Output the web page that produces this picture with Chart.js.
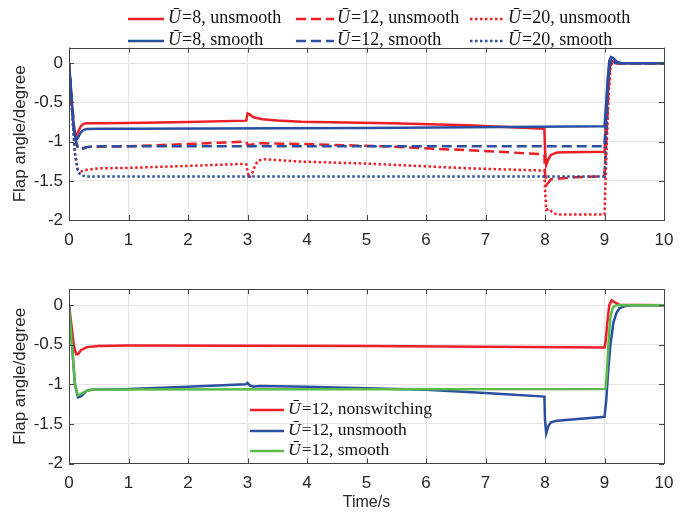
<!DOCTYPE html>
<html><head><meta charset="utf-8">
<script src="https://cdn.jsdelivr.net/npm/chart.js@4"></script>
<style>
html,body{margin:0;padding:0;background:#fff;}
#wrap{position:relative;width:691px;height:514px;background:#fff;}
#c1{position:absolute;left:0;top:0;}
#c2{position:absolute;left:0;top:260px;}
</style></head><body>
<div id="wrap"><canvas id="c1" width="691" height="260" style="width:691px;height:260px"></canvas><canvas id="c2" width="691" height="254" style="width:691px;height:254px"></canvas></div>
<script>
// ---------- tick labels ----------
const xTicks = [0,1,2,3,4,5,6,7,8,9,10];
const yTicks = [-2,-1.5,-1,-0.5,0];

// ---------- top subplot ----------
const labelU8un = 'Ū=8, unsmooth';
const tU8un = [0,0.03,0.06,0.09,0.12,0.15,0.2,0.25,0.3,0.5,1,2,2.98,3.0,3.03,3.1,3.25,3.5,3.9,5.4,6.7,7.99,8.0,8.02,8.06,8.1,8.2,8.4,9.0,9.02,9.05,9.08,9.11,9.15,9.2,10];
const vU8un = [0,-0.3,-0.65,-0.88,-0.93,-0.88,-0.8,-0.77,-0.765,-0.765,-0.762,-0.75,-0.732,-0.64,-0.65,-0.69,-0.715,-0.73,-0.745,-0.765,-0.79,-0.835,-1.1,-1.3,-1.22,-1.17,-1.14,-1.135,-1.13,-0.8,-0.4,-0.05,0.03,0.02,0,0];

const labelU8sm = 'Ū=8, smooth';
const tU8sm = [0,0.03,0.06,0.09,0.12,0.15,0.2,0.25,0.3,0.5,1,5,9.0,9.02,9.05,9.08,9.11,9.14,9.18,9.22,9.3,10];
const vU8sm = [0,-0.3,-0.65,-0.9,-0.98,-0.95,-0.88,-0.85,-0.84,-0.835,-0.835,-0.825,-0.805,-0.6,-0.25,0.03,0.08,0.07,0.04,0.015,0,0];

const labelU12un = 'Ū=12, unsmooth';
const tU12un = [0,0.05,0.1,0.15,0.2,0.3,0.4,1,2,2.98,3.0,3.05,3.2,3.9,5.3,6.7,7.99,8.0,8.03,8.1,8.5,9.0,9.03,9.06,9.09,9.12,9.2,10];
const vU12un = [0,-0.5,-0.95,-1.09,-1.09,-1.07,-1.065,-1.06,-1.03,-1.0,-1.04,-1.04,-1.02,-1.03,-1.06,-1.11,-1.16,-1.4,-1.55,-1.48,-1.455,-1.44,-1.0,-0.45,-0.05,0.01,0,0];

const labelU12sm = 'Ū=12, smooth';
const tU12sm = [0,0.05,0.1,0.15,0.2,0.3,0.4,9.0,9.03,9.06,9.09,9.12,9.16,9.25,10];
const vU12sm = [0,-0.5,-0.95,-1.08,-1.1,-1.07,-1.06,-1.06,-0.6,-0.15,0.02,0.04,0.02,0,0];

const labelU20un = 'Ū=20, unsmooth';
const tU20un = [0,0.05,0.1,0.15,0.2,0.3,0.5,1,2,2.9,2.98,3.0,3.03,3.08,3.13,3.18,3.3,3.9,5,6.7,7.99,8.0,8.02,8.07,8.12,8.2,9.0,9.03,9.07,9.1,9.13,9.2,10];
const vU20un = [0,-0.6,-1.15,-1.36,-1.38,-1.36,-1.34,-1.335,-1.31,-1.285,-1.29,-1.38,-1.46,-1.4,-1.3,-1.24,-1.225,-1.255,-1.28,-1.34,-1.37,-1.6,-1.87,-1.86,-1.9,-1.93,-1.93,-1.2,-0.4,-0.05,0.01,0,0];

const labelU20sm = 'Ū=20, smooth';
const tU20sm = [0,0.05,0.1,0.15,0.2,0.3,9.0,9.03,9.06,9.09,9.12,9.16,9.25,10];
const vU20sm = [0,-0.6,-1.15,-1.38,-1.43,-1.445,-1.445,-0.9,-0.35,-0.03,0.02,0.01,0,0];

// ---------- bottom subplot ----------
const labelNon = 'Ū=12, nonswitching';
const tNon = [0,0.04,0.08,0.12,0.15,0.2,0.3,0.5,1,5,9.0,9.02,9.05,9.08,9.12,9.16,9.25,10];
const vNon = [0,-0.25,-0.5,-0.62,-0.62,-0.57,-0.53,-0.515,-0.51,-0.515,-0.535,-0.45,-0.2,0.0,0.06,0.04,0.005,0];

const labelUn = 'Ū=12, unsmooth';
const tUn = [0,0.05,0.1,0.15,0.2,0.3,0.4,1,2,2.97,3.0,3.03,3.1,3.15,3.2,4,6,7,7.99,8.0,8.02,8.06,8.1,8.2,9.0,9.03,9.06,9.1,9.15,9.2,9.25,9.35,9.45,10];
const vUn = [0,-0.5,-1.0,-1.165,-1.15,-1.08,-1.065,-1.06,-1.03,-1.0,-0.98,-1.01,-1.03,-1.025,-1.02,-1.03,-1.07,-1.11,-1.155,-1.45,-1.62,-1.52,-1.48,-1.46,-1.41,-1.2,-0.85,-0.5,-0.22,-0.1,-0.04,-0.01,0,0];

const labelSm = 'Ū=12, smooth';
const tSm = [0,0.05,0.1,0.15,0.2,0.3,0.4,9.0,9.02,9.04,9.07,9.1,9.14,9.2,9.3,10];
const vSm = [0,-0.5,-1.0,-1.14,-1.12,-1.08,-1.065,-1.06,-1.05,-0.85,-0.45,-0.15,-0.03,0,0,0];

// ---------- styling ----------
const RED = 'rgb(236,30,38)';
const BLUE = 'rgb(42,78,160)';
const GREEN = 'rgb(92,186,72)';
const DASH = [10,5];
const DOT = [2.5,2.5];
const LW = 2.5;

function pts(t, v){ return t.map((x,i)=>({x:x, y:v[i]})); }
function ds(label, t, v, color, dash, order){
  return {label, data: pts(t,v), borderColor: color, backgroundColor: color, borderWidth: LW,
    borderDash: dash || [], pointRadius: 0, tension: 0, fill: false, order: order, borderCapStyle:'butt'};
}

const boxPlugin = {
  id: 'boxTicks',
  afterDraw(chart){
    const {ctx, chartArea: a, scales: {x, y}} = chart;
    ctx.save();
    ctx.strokeStyle = '#444';
    ctx.lineWidth = 1;
    const L = 5;
    ctx.beginPath();
    x.ticks.forEach(t => {
      const px = Math.round(x.getPixelForValue(t.value)) + 0.5;
      ctx.moveTo(px, a.bottom); ctx.lineTo(px, a.bottom - L);
      ctx.moveTo(px, a.top); ctx.lineTo(px, a.top + L);
    });
    y.ticks.forEach(t => {
      const py = Math.round(y.getPixelForValue(t.value)) + 0.5;
      ctx.moveTo(a.left, py); ctx.lineTo(a.left + L, py);
      ctx.moveTo(a.right, py); ctx.lineTo(a.right - L, py);
    });
    ctx.stroke();
    ctx.strokeRect(Math.round(a.left)+0.5, Math.round(a.top)+0.5, Math.round(a.right-a.left), Math.round(a.bottom-a.top));
    ctx.restore();
  }
};

const legendPlugin = {
  id: 'customLegend',
  afterDraw(chart, args, opts){
    const ctx = chart.ctx;
    ctx.save();
    (opts.items || []).forEach(it => {
      const d = chart.data.datasets[it.ds];
      ctx.strokeStyle = d.borderColor;
      ctx.lineWidth = LW;
      ctx.setLineDash(d.borderDash || []);
      ctx.beginPath();
      ctx.moveTo(it.lx, it.y + 1); ctx.lineTo(it.lx + it.len, it.y + 1);
      ctx.stroke();
      ctx.setLineDash([]);
      ctx.fillStyle = '#111';
      ctx.textBaseline = 'middle';
      ctx.textAlign = 'left';
      const head = d.label.slice(0,1), rest = d.label.slice(1);
      ctx.font = 'italic ' + opts.size + 'px "Liberation Serif"';
      ctx.fillText(head, it.tx, it.y);
      const w = ctx.measureText(head).width;
      ctx.font = opts.size + 'px "Liberation Serif"';
      ctx.fillText(rest, it.tx + w + 1, it.y);
    });
    ctx.restore();
  }
};

function makeOptions(padTop, xHeight, showXTitle, legendItems, legendSize){
  return {
    responsive: false, animation: false, devicePixelRatio: 1,
    layout: {padding: {left: 0, right: 27, top: padTop, bottom: 0}},
    plugins: {legend: {display: false}, tooltip: {enabled: false},
      customLegend: {items: legendItems, size: legendSize}},
    scales: {
      x: {type: 'linear', min: 0, max: 10,
        afterBuildTicks: s => { s.ticks = xTicks.map(v => ({value: v})); },
        afterFit: s => { s.height = xHeight; },
        grid: {color: '#e4e4e4', drawTicks: false, lineWidth: 1},
        border: {display: false},
        ticks: {padding: 10, autoSkip: false, maxRotation: 0, color: '#262626',
          font: {family: '"Liberation Sans", Arial', size: 17},
          callback: v => String(v)},
        title: {display: showXTitle, text: 'Time/s', color: '#262626',
          font: {family: '"Liberation Sans", Arial', size: 16, lineHeight: 1}, padding: {top: 0, bottom: 3}}
      },
      y: {type: 'linear', min: -2, max: 0.2,
        afterBuildTicks: s => { s.ticks = yTicks.map(v => ({value: v})); },
        afterFit: s => { s.width = 69; },
        grid: {color: '#e4e4e4', drawTicks: false, lineWidth: 1},
        border: {display: false},
        ticks: {padding: 6, color: '#262626', includeBounds: false,
          font: {family: '"Liberation Sans", Arial', size: 17},
          callback: v => String(v)},
        title: {display: true, text: 'Flap angle/degree', color: '#262626',
          font: {family: '"Liberation Sans", Arial', size: 17, lineHeight: 1}, padding: {top: 12, bottom: 0}}
      }
    }
  };
}

new Chart(document.getElementById('c1'), {
  type: 'line',
  data: {datasets: [
    ds(labelU8un, tU8un, vU8un, RED, null, 5),
    ds(labelU12un, tU12un, vU12un, RED, DASH, 4),
    ds(labelU20un, tU20un, vU20un, RED, DOT, 3),
    ds(labelU8sm, tU8sm, vU8sm, BLUE, null, 2),
    ds(labelU12sm, tU12sm, vU12sm, BLUE, DASH, 1),
    ds(labelU20sm, tU20sm, vU20sm, BLUE, DOT, 0)
  ]},
  options: makeOptions(47.6, 40, false, [
    {ds:0, lx:128, len:36, tx:168, y:18},
    {ds:1, lx:296, len:38, tx:337, y:18},
    {ds:2, lx:470, len:34, tx:508, y:18},
    {ds:3, lx:128, len:36, tx:168, y:40},
    {ds:4, lx:296, len:38, tx:337, y:40},
    {ds:5, lx:470, len:34, tx:508, y:40}
  ], 18),
  plugins: [boxPlugin, legendPlugin]
});

new Chart(document.getElementById('c2'), {
  type: 'line',
  data: {datasets: [
    ds(labelNon, tNon, vNon, RED, null, 2),
    ds(labelUn, tUn, vUn, BLUE, null, 1),
    ds(labelSm, tSm, vSm, GREEN, null, 0)
  ]},
  options: makeOptions(29.3, 50.5, true, [
    {ds:0, lx:250, len:34, tx:288, y:149},
    {ds:1, lx:250, len:34, tx:288, y:170},
    {ds:2, lx:250, len:34, tx:288, y:190}
  ], 17.5),
  plugins: [boxPlugin, legendPlugin]
});
</script>
</body></html>
